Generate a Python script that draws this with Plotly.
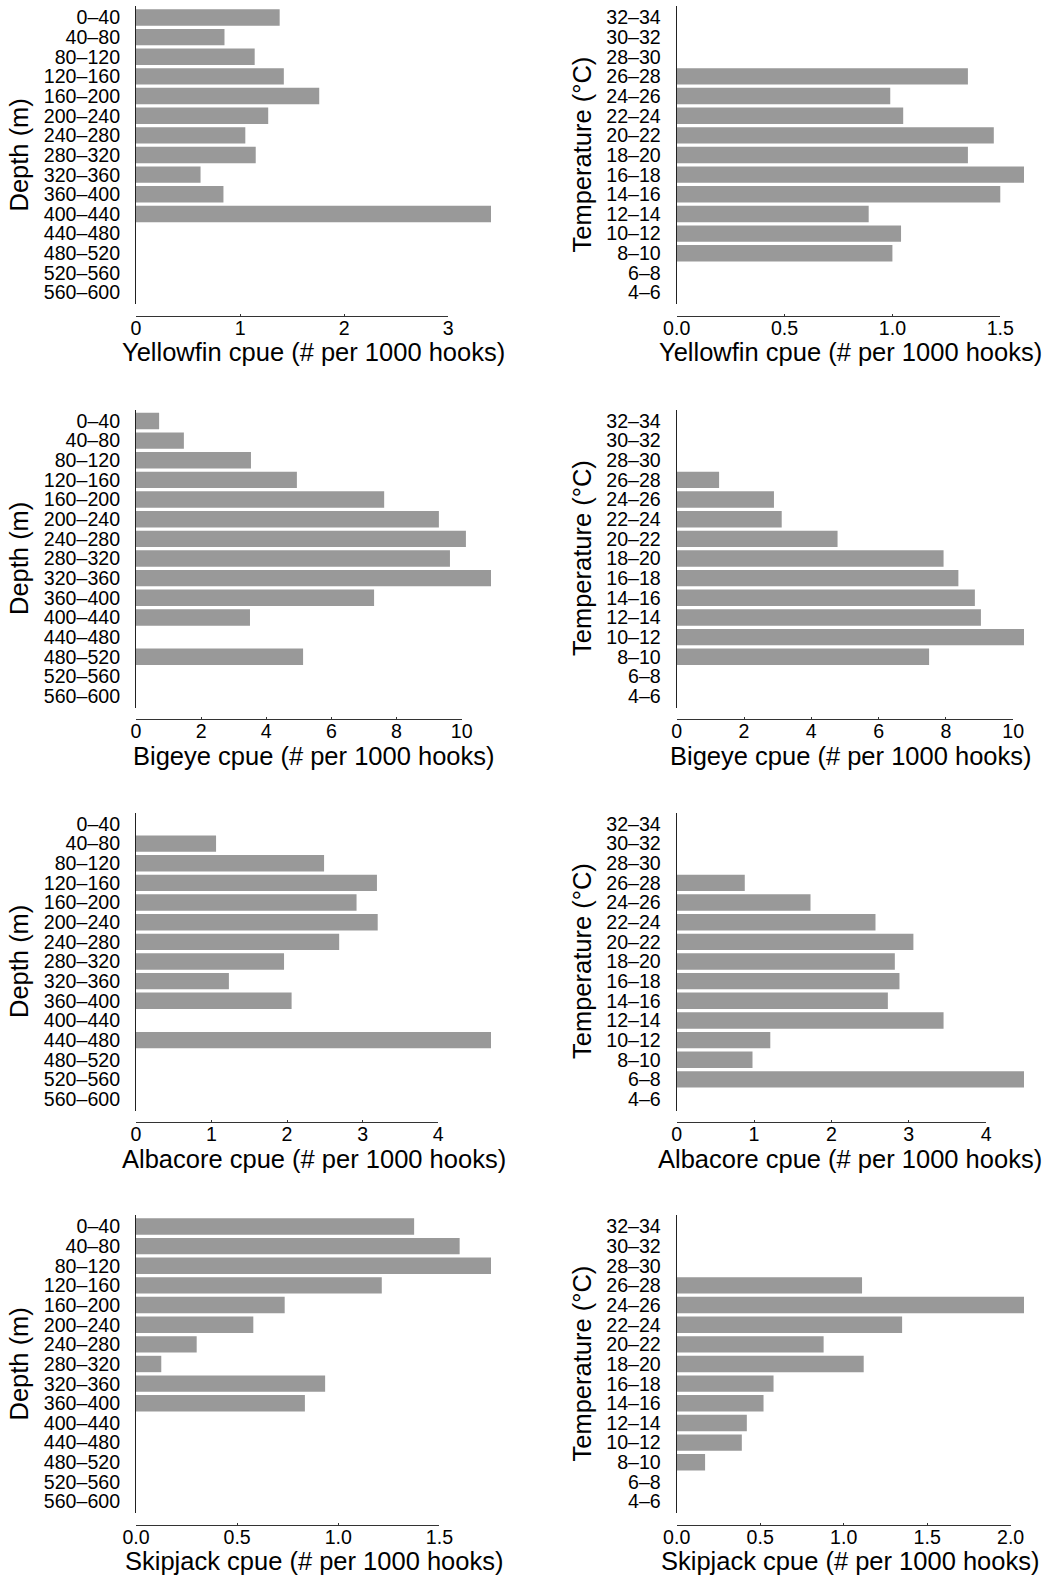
import plotly.graph_objects as go

# ---------------- data ----------------
depth_labels = ["0–40", "40–80", "80–120", "120–160", "160–200", "200–240", "240–280",
                "280–320", "320–360", "360–400", "400–440", "440–480", "480–520",
                "520–560", "560–600"]
temp_labels = ["32–34", "30–32", "28–30", "26–28", "24–26", "22–24", "20–22", "18–20",
               "16–18", "14–16", "12–14", "10–12", "8–10", "6–8", "4–6"]

yellowfin_depth = [1.38, 0.85, 1.14, 1.42, 1.76, 1.27, 1.05, 1.15, 0.62, 0.84, 3.41, 0, 0, 0, 0]
yellowfin_temp = [0, 0, 0, 1.35, 0.99, 1.05, 1.47, 1.35, 1.61, 1.50, 0.89, 1.04, 1.00, 0, 0]
bigeye_depth = [0.71, 1.47, 3.53, 4.94, 7.62, 9.30, 10.13, 9.64, 10.90, 7.31, 3.50, 0, 5.13, 0, 0]
bigeye_temp = [0, 0, 0, 1.26, 2.89, 3.12, 4.78, 7.93, 8.37, 8.86, 9.04, 10.32, 7.50, 0, 0]
albacore_depth = [0, 1.06, 2.49, 3.19, 2.92, 3.20, 2.69, 1.96, 1.23, 2.06, 0, 4.70, 0, 0, 0]
albacore_temp = [0, 0, 0, 0.88, 1.73, 2.57, 3.06, 2.82, 2.88, 2.73, 3.45, 1.21, 0.98, 4.49, 0]
skipjack_depth = [1.375, 1.60, 1.755, 1.215, 0.735, 0.58, 0.30, 0.125, 0.935, 0.835, 0, 0, 0, 0, 0]
skipjack_temp = [0, 0, 0, 1.11, 2.08, 1.35, 0.88, 1.12, 0.58, 0.52, 0.42, 0.39, 0.17, 0, 0]

ticks_yf_depth = [0, 1, 2, 3]
ticks_yf_temp = [0.0, 0.5, 1.0, 1.5]
ticks_be = [0, 2, 4, 6, 8, 10]
ticks_al = [0, 1, 2, 3, 4]
ticks_sj_depth = [0.0, 0.5, 1.0, 1.5]
ticks_sj_temp = [0.0, 0.5, 1.0, 1.5, 2.0]

species = ["Yellowfin", "Bigeye", "Albacore", "Skipjack"]
depth_title = "Depth (m)"
temp_title = "Temperature (°C)"

# ---------------- layout geometry (pixels) ----------------
W, H = 1053, 1577
row_tops = [6, 409.5, 812.5, 1215]
plot_h = 298
col_x = [(136, 491), (676.7, 1024)]
ytitle_x = [18.5, 581.5]
axis_gap = 11.5      # distance from plot bottom to the R-style x axis line
xtitle_gap = 48      # distance from plot bottom to x title centre

def px(x):
    return x / W

def py(y):
    return 1 - y / H

panels = [
    (0, 0, yellowfin_depth, depth_labels, ticks_yf_depth, ".0f", depth_title, species[0]),
    (0, 1, yellowfin_temp, temp_labels, ticks_yf_temp, ".1f", temp_title, species[0]),
    (1, 0, bigeye_depth, depth_labels, ticks_be, ".0f", depth_title, species[1]),
    (1, 1, bigeye_temp, temp_labels, ticks_be, ".0f", temp_title, species[1]),
    (2, 0, albacore_depth, depth_labels, ticks_al, ".0f", depth_title, species[2]),
    (2, 1, albacore_temp, temp_labels, ticks_al, ".0f", temp_title, species[2]),
    (3, 0, skipjack_depth, depth_labels, ticks_sj_depth, ".1f", depth_title, species[3]),
    (3, 1, skipjack_temp, temp_labels, ticks_sj_temp, ".1f", temp_title, species[3]),
]

FONT = "Liberation Sans, Arial, Helvetica, sans-serif"
TICKSIZE = 19.6
TITLESIZE = 25.5

fig = go.Figure()
layout = dict(
    width=W, height=H,
    margin=dict(l=0, r=0, t=0, b=0, pad=0),
    paper_bgcolor="white", plot_bgcolor="rgba(0,0,0,0)",
    showlegend=False,
    font=dict(family=FONT, color="black"),
    bargap=1 / 6,
)
annotations = []
npan = len(panels)

for i, (row, col, vals, cats, ticks, fmt, ytitle, sp) in enumerate(panels):
    n = i + 1
    xa = "x" if n == 1 else f"x{n}"
    ya = "y" if n == 1 else f"y{n}"
    xkey = "xaxis" if n == 1 else f"xaxis{n}"
    ykey = "yaxis" if n == 1 else f"yaxis{n}"
    top = row_tops[row]
    bot = top + plot_h
    x0, x1 = col_x[col]
    vmax = max(vals)

    fig.add_trace(go.Bar(
        x=vals, y=cats, orientation="h",
        marker=dict(color="#999999", line=dict(width=0)),
        xaxis=xa, yaxis=ya, hoverinfo="x+y",
    ))

    # data axis of the bars (spans 0..max exactly); carries the tick labels
    layout[xkey] = dict(
        domain=[px(x0), px(x1)],
        range=[0, vmax],
        anchor=ya, automargin=False,
        showline=False, showgrid=False, zeroline=False,
        tickmode="array", tickvals=ticks,
        ticktext=[format(t, fmt) for t in ticks],
        ticks="",
        tickfont=dict(size=TICKSIZE, family=FONT, color="black"),
        ticklabelstandoff=10,
    )
    # R-style axis line: same scale, only from first to last tick
    m = n + npan
    vkey = f"xaxis{m}"
    frac = ticks[-1] / vmax
    layout[vkey] = dict(
        domain=[px(x0), px(x0 + (x1 - x0) * frac)],
        range=[ticks[0], ticks[-1]],
        anchor="free", position=py(bot + axis_gap),
        showline=True, linecolor="#333333", linewidth=1,
        showgrid=False, zeroline=False, automargin=False,
        tickmode="array", tickvals=ticks,
        showticklabels=False,
        ticks="inside", ticklen=2, tickcolor="#333333", tickwidth=1,
        fixedrange=True,
    )
    fig.add_trace(go.Scatter(
        x=[ticks[0]], y=[cats[0]], xaxis=f"x{m}", yaxis=ya,
        mode="markers", marker=dict(opacity=0), hoverinfo="skip",
    ))

    layout[ykey] = dict(
        domain=[py(bot), py(top)],
        anchor=xa,
        type="category",
        categoryorder="array", categoryarray=cats,
        range=[len(cats) - 1 + 0.583, -0.583],
        showline=True, linecolor="#222222", linewidth=1,
        showgrid=False, zeroline=False, automargin=False,
        ticks="",
        tickmode="array", tickvals=cats, ticktext=cats,
        tickfont=dict(size=TICKSIZE, family=FONT, color="black"),
        ticklabelstandoff=11,
    )
    annotations.append(dict(
        text=f"{sp} cpue (# per 1000 hooks)",
        xref="paper", yref="paper",
        x=px((x0 + x1) / 2), y=py(bot + xtitle_gap),
        xanchor="center", yanchor="middle", showarrow=False,
        font=dict(size=TITLESIZE, family=FONT, color="black"),
    ))
    annotations.append(dict(
        text=ytitle, textangle=-90,
        xref="paper", yref="paper",
        x=px(ytitle_x[col]), y=py((top + bot) / 2),
        xanchor="center", yanchor="middle", showarrow=False,
        font=dict(size=TITLESIZE, family=FONT, color="black"),
    ))

layout["annotations"] = annotations
fig.update_layout(**layout)
fig.write_html(
    "out.html",
    config={"displayModeBar": False},
    post_script="document.body.style.margin='0';document.body.style.overflow='hidden';",
)
